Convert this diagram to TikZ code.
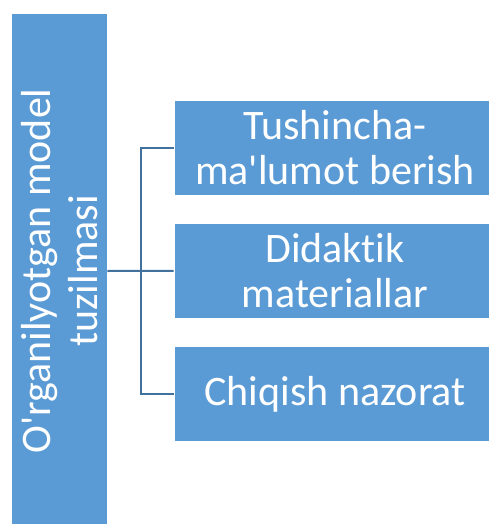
\documentclass[tikz,border=0pt]{standalone}
\usepackage{fontspec}
\setmainfont{Carlito}[Ligatures={TeXOff,NoCommon}]
\definecolor{boxblue}{HTML}{5B9BD5}
\definecolor{linkblue}{HTML}{41719C}
\tikzset{
  blk/.style={fill=boxblue, draw=white, line width=0.8pt, inner sep=0pt, text=white,
    align=center, font=\fontsize{42}{45}\selectfont},
  link/.style={draw=linkblue, line width=2pt}
}
\begin{document}
\begin{tikzpicture}[x=1pt,y=-1pt]
\useasboundingbox (0,0) rectangle (489,524);
\fill[white] (0,0) rectangle (489,524);
\begin{scope}
\clip (0,0) rectangle (489,524);
\node[blk, rotate=90, minimum width=516, minimum height=95.3,
  font=\fontsize{42}{47}\selectfont] (L) at (59.3,271) {O'rganilyotgan model\\tuzilmasi};
\node[blk, minimum width=322, minimum height=95] (B1) at (335,147.7) {Tushincha-\\ma'lumot berish};
\node[blk, minimum width=322, minimum height=95] (B2) at (335,270.8) {Didaktik\\materiallar};
\node[blk, minimum width=322, minimum height=95] (B3) at (335,394.2) {Chiqish nazorat};
\end{scope}
\coordinate (J) at (140.7,271);
\draw[link] (L.south) -- (B2.west);
\draw[link] (B1.west) -| (J) |- (B3.west);
\end{tikzpicture}
\end{document}
